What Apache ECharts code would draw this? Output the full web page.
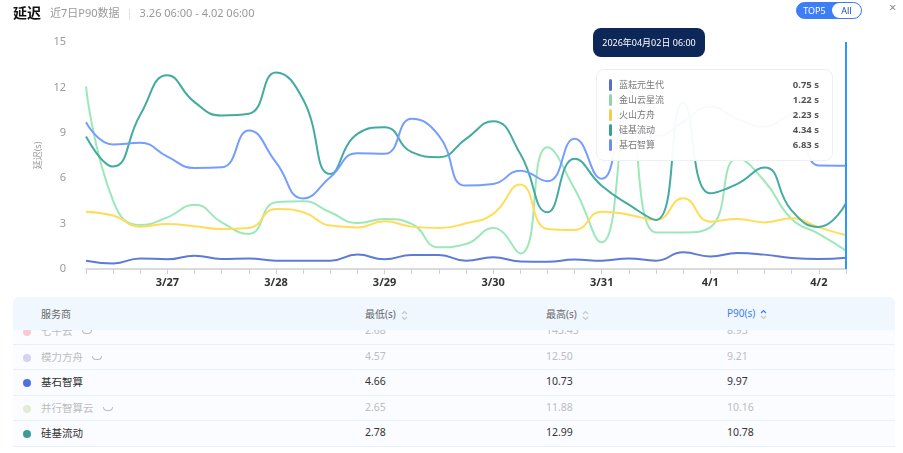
<!DOCTYPE html>
<html>
<head>
<meta charset="utf-8">
<script src="https://cdn.jsdelivr.net/npm/echarts@6/dist/echarts.min.js"></script>
<style>
  html, body { margin:0; padding:0; background:#fff; width:903px; height:453px; overflow:hidden;
    font-family: "Noto Sans", "Noto Sans CJK SC", sans-serif; }
  #chart { position:absolute; left:0; top:0; width:903px; height:300px; }
  .hdr { position:absolute; top:3px; left:13px; height:18px; display:flex; align-items:center; white-space:nowrap; z-index:5; }
  .hdr .t { font-size:14px; font-weight:bold; color:#111; }
  .hdr .s { font-size:11px; color:#999; margin-left:9px; }
  .hdr .sep { font-size:11px; color:#ddd; margin:0 7px; }
  .toggle { position:absolute; left:796px; top:2px; width:64px; height:15px; border:1px solid #3d7ef7; border-radius:9px;
    background:#3d7ef7; z-index:5; font-size:9px; }
  .toggle .a { position:absolute; left:0; top:0; width:35px; height:15px; line-height:15px; text-align:center; color:#fff; }
  .toggle .b { position:absolute; right:0; top:0; width:29px; height:15px; line-height:15px; text-align:center; color:#1f4fb8;
    background:#fff; border-radius:8px; }
  .close { position:absolute; left:889px; top:-2px; font-size:13px; color:#888; z-index:5; }
  .table { position:absolute; left:13px; top:297px; width:882px; height:156px; overflow:hidden; }
  .thead { position:absolute; left:0; top:0; width:882px; height:33px; background:#f0f7ff; border-radius:6px 6px 0 0; z-index:3;
    font-size:10px; color:#666; }
  .thead div, .row div { position:absolute; white-space:nowrap; }
  .tbody { position:absolute; left:0; top:22px; width:882px; }
  .row { position:relative; height:25.5px; background:#fafcff; border-bottom:1px solid #e8f1fb; font-size:10.5px; box-sizing:border-box; }
  .dot { width:8px; height:8px; border-radius:50%; top:9px; left:10px; }
  .eye { display:inline-block; width:8px; height:3px; border:1.2px solid #bbb; border-top:none; border-radius:0 0 6px 6px; margin-left:9px; vertical-align:middle; }
  svg.sort { vertical-align:middle; margin-left:5px; }
</style>
</head>
<body>
<div id="chart"></div>
<div class="hdr"><span class="t">延迟</span><span class="s">近7日P90数据</span><span class="sep">|</span><span class="s" style="margin-left:0">3.26 06:00 - 4.02 06:00</span></div>
<div class="toggle"><div class="a">TOP5</div><div class="b">All</div></div>
<div class="close">×</div>
<div class="table" id="table"></div>
<script>
// ---- chart data ----
const categories = [
  '3/26 06:00','3/26 12:00','3/26 18:00',
  '3/27 00:00','3/27 06:00','3/27 12:00','3/27 18:00',
  '3/28 00:00','3/28 06:00','3/28 12:00','3/28 18:00',
  '3/29 00:00','3/29 06:00','3/29 12:00','3/29 18:00',
  '3/30 00:00','3/30 06:00','3/30 12:00','3/30 18:00',
  '3/31 00:00','3/31 06:00','3/31 12:00','3/31 18:00',
  '4/1 00:00','4/1 06:00','4/1 12:00','4/1 18:00',
  '4/2 00:00','4/2 06:00'
];
const seriesNames = ['蓝耘元生代','金山云星流','火山方舟','硅基流动','基石智算'];
const seriesColors = ['#5470c6','#8fd3a9','#fcc950','#3d9c93','#6b8ef2'];
const lanyun   = [0.55,0.37,0.70,0.64,0.88,0.66,0.70,0.55,0.55,0.55,0.95,0.64,0.93,0.93,0.55,0.77,0.50,0.48,0.62,0.55,0.70,0.55,1.10,0.83,1.06,0.95,0.73,0.66,0.75];
const jinshan  = [12.07,4.50,2.90,3.41,4.25,3.08,2.32,4.41,4.47,3.75,3.04,3.31,2.98,1.43,1.65,2.71,1.03,8.05,5.30,1.76,10.00,2.42,2.42,2.75,7.30,5.80,3.31,2.32,1.22];
const huoshan  = [3.79,3.53,2.80,2.98,2.82,2.65,2.71,3.97,3.75,2.87,2.75,3.15,2.80,2.71,3.02,3.64,5.58,2.65,2.58,3.79,3.59,3.24,4.67,3.13,3.31,3.08,3.35,2.75,2.23];
const guiji    = [8.75,6.77,10.20,12.80,11.03,10.15,10.26,12.99,11.20,6.28,8.93,9.37,7.72,7.39,8.60,9.77,7.61,3.75,7.28,5.50,4.25,3.24,11.00,5.00,5.62,6.70,3.86,2.78,4.34];
const jishi    = [9.70,8.23,8.34,7.43,6.68,6.72,9.15,7.05,4.66,6.06,7.65,7.61,9.93,8.82,5.51,5.62,6.50,5.80,8.60,5.96,9.40,8.80,9.70,10.73,9.90,9.40,10.20,6.84,6.83];
const seriesValues = [lanyun, jinshan, huoshan, guiji, jishi];
const yTicks = { min: 0, max: 15, interval: 3 };
const tooltipTitle = '2026年04月02日 06:00';
const shownIndex = 28;

// ---- table data ----
const tableNames  = ['七牛云','模力方舟','基石智算','并行智算云','硅基流动'];
const tableColors = ['#f7c9d2','#d3d3f2','#4e6fe0','#e2edd3','#3d9c93'];
const tableHidden = [true,true,false,true,false];
const tableMin = ['2.68','4.57','4.66','2.65','2.78'];
const tableMax = ['143.43','12.50','10.73','11.88','12.99'];
const tableP90 = ['8.93','9.21','9.97','10.16','10.78'];
const tableHeaders = ['服务商','最低(s)','最高(s)','P90(s)'];

// ---- table ----
function sortIcon(active) {
  const up = active ? '#3d7ef7' : '#c8c8c8';
  return '<svg class="sort" width="7" height="11" viewBox="0 0 7 11"><path d="M1 4 L3.5 1.5 L6 4" fill="none" stroke="'+up+'" stroke-width="1.2"/><path d="M1 7 L3.5 9.5 L6 7" fill="none" stroke="#c8c8c8" stroke-width="1.2"/></svg>';
}
const colX = [28, 352, 533, 714];
let html = '<div class="thead">';
html += '<div style="left:'+colX[0]+'px;top:9px">'+tableHeaders[0]+'</div>';
html += '<div style="left:'+colX[1]+'px;top:9px">'+tableHeaders[1]+sortIcon(false)+'</div>';
html += '<div style="left:'+colX[2]+'px;top:9px">'+tableHeaders[2]+sortIcon(false)+'</div>';
html += '<div style="left:'+colX[3]+'px;top:9px;color:#3d7ef7">'+tableHeaders[3]+sortIcon(true)+'</div>';
html += '</div><div class="tbody">';
for (let i = 0; i < tableNames.length; i++) {
  const c = tableHidden[i] ? '#bdbdbd' : '#333';
  html += '<div class="row" style="color:'+c+'">';
  html += '<div class="dot" style="background:'+tableColors[i]+'"></div>';
  html += '<div style="left:'+colX[0]+'px;top:4px">'+tableNames[i]+(tableHidden[i]?'<span class="eye"></span>':'')+'</div>';
  html += '<div style="left:'+colX[1]+'px;top:4px">'+tableMin[i]+'</div>';
  html += '<div style="left:'+colX[2]+'px;top:4px">'+tableMax[i]+'</div>';
  html += '<div style="left:'+colX[3]+'px;top:4px">'+tableP90[i]+'</div>';
  html += '</div>';
}
html += '</div>';
document.getElementById('table').innerHTML = html;

// ---- chart ----
const chart = echarts.init(document.getElementById('chart'));
const option = {
  animation: false,
  textStyle: { fontFamily: '"Noto Sans", "Noto Sans CJK SC", sans-serif' },
  grid: { left: 86, right: 57, top: 42, bottom: 31 },
  tooltip: {
    trigger: 'axis',
    alwaysShowContent: true,
    position: [593, 28],
    backgroundColor: 'transparent',
    borderWidth: 0,
    padding: 0,
    transitionDuration: 0,
    extraCssText: 'box-shadow:none;',
    axisPointer: { type: 'line', lineStyle: { color: '#2f95ff', width: 2, type: 'solid' } },
    formatter: function (params) {
      let s = '<div style="font-family:Noto Sans, Noto Sans CJK SC, sans-serif;">';
      s += '<div style="width:112px;height:29px;line-height:29px;background:#0e2759;color:#fff;border-radius:8px;font-size:9px;text-align:center;">' + tooltipTitle + '</div>';
      s += '<div style="margin:12px 0 0 3px;width:235px;padding:7px 0 8px 0;background:rgba(255,255,255,0.95);border:1px solid #eceff3;border-radius:8px;">';
      params.forEach(function (p) {
        s += '<div style="position:relative;height:15px;line-height:15px;font-size:9px;">' +
             '<span style="position:absolute;left:12px;top:2px;width:3px;height:12px;border-radius:2px;background:' + p.color + '"></span>' +
             '<span style="position:absolute;left:22px;color:#777;">' + p.seriesName + '</span>' +
             '<span style="position:absolute;right:13px;color:#555;font-weight:bold;font-size:9.5px;">' + p.value.toFixed(2) + ' s</span></div>';
      });
      s += '</div></div>';
      return s;
    }
  },
  xAxis: {
    type: 'category',
    data: categories,
    boundaryGap: false,
    axisLine: { lineStyle: { color: '#cfcfcf', width: 1.5 } },
    axisTick: { show: true, interval: 0, length: 5, lineStyle: { color: '#cfcfcf' } },
    axisLabel: {
      interval: function (idx, val) { return val.endsWith(' 00:00'); },
      formatter: function (val) { return val.split(' ')[0]; },
      color: '#333', fontSize: 11, fontWeight: 'bold', margin: 8
    }
  },
  yAxis: {
    type: 'value',
    min: yTicks.min, max: yTicks.max, interval: yTicks.interval,
    name: '延迟(s)', nameLocation: 'middle', nameGap: 36,
    nameTextStyle: { color: '#999', fontSize: 9 },
    axisLine: { show: false }, axisTick: { show: false },
    splitLine: { show: false },
    axisLabel: { color: '#999', fontSize: 11, margin: 20 }
  },
  series: seriesNames.map(function (n, i) {
    return {
      name: n, type: 'line', smooth: true, symbol: 'none', showSymbol: false,
      data: seriesValues[i], color: seriesColors[i],
      lineStyle: { width: 2, color: seriesColors[i] }
    };
  })
};
chart.setOption(option);
chart.dispatchAction({ type: 'showTip', seriesIndex: 0, dataIndex: shownIndex });
</script>
</body>
</html>
